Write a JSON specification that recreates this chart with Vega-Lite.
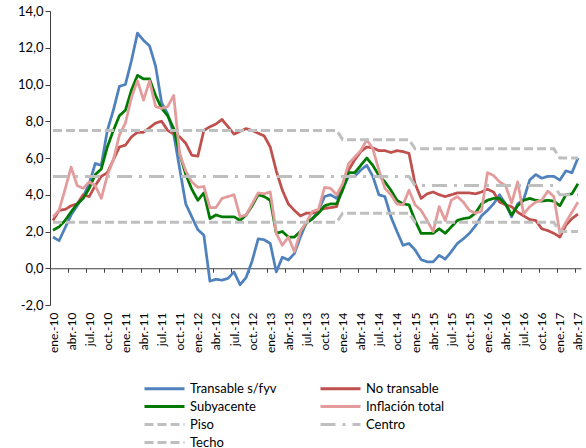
{
  "$schema": "https://vega.github.io/schema/vega-lite/v6.json",
  "width": 531,
  "height": 294,
  "autosize": {"type": "none"},
  "padding": {"left": 50, "top": 11, "right": 5, "bottom": 143},
  "background": "white",
  "config": {
    "font": "Lato",
    "view": {"stroke": null},
    "axis": {"labelFont": "Lato", "labelColor": "#000000", "grid": false, "domainColor": "#404040", "tickColor": "#404040"},
    "legend": {"labelFont": "Lato"}
  },
  "data": {
    "values": [
      {"i":0,"mes":"ene-10","Transable s/fyv":1.7,"No transable":2.6,"Subyacente":2.07,"Inflación total":2.8,"Piso":2.5,"Centro":5,"Techo":7.5},
      {"i":1,"mes":"feb-10","Transable s/fyv":1.5,"No transable":3.15,"Subyacente":2.25,"Inflación total":3.15,"Piso":2.5,"Centro":5,"Techo":7.5},
      {"i":2,"mes":"mar-10","Transable s/fyv":2.2,"No transable":3.2,"Subyacente":2.6,"Inflación total":4.3,"Piso":2.5,"Centro":5,"Techo":7.5},
      {"i":3,"mes":"abr-10","Transable s/fyv":2.9,"No transable":3.4,"Subyacente":3.07,"Inflación total":5.5,"Piso":2.5,"Centro":5,"Techo":7.5},
      {"i":4,"mes":"may-10","Transable s/fyv":3.4,"No transable":3.5,"Subyacente":3.5,"Inflación total":4.5,"Piso":2.5,"Centro":5,"Techo":7.5},
      {"i":5,"mes":"jun-10","Transable s/fyv":3.9,"No transable":4.0,"Subyacente":3.8,"Inflación total":4.35,"Piso":2.5,"Centro":5,"Techo":7.5},
      {"i":6,"mes":"jul-10","Transable s/fyv":4.6,"No transable":3.9,"Subyacente":4.35,"Inflación total":4.7,"Piso":2.5,"Centro":5,"Techo":7.5},
      {"i":7,"mes":"ago-10","Transable s/fyv":5.7,"No transable":4.5,"Subyacente":5.1,"Inflación total":4.5,"Piso":2.5,"Centro":5,"Techo":7.5},
      {"i":8,"mes":"sep-10","Transable s/fyv":5.6,"No transable":5.0,"Subyacente":5.4,"Inflación total":3.8,"Piso":2.5,"Centro":5,"Techo":7.5},
      {"i":9,"mes":"oct-10","Transable s/fyv":7.5,"No transable":5.2,"Subyacente":6.6,"Inflación total":5.05,"Piso":2.5,"Centro":5,"Techo":7.5},
      {"i":10,"mes":"nov-10","Transable s/fyv":8.6,"No transable":5.9,"Subyacente":7.5,"Inflación total":5.9,"Piso":2.5,"Centro":5,"Techo":7.5},
      {"i":11,"mes":"dic-10","Transable s/fyv":9.9,"No transable":6.6,"Subyacente":8.3,"Inflación total":7.25,"Piso":2.5,"Centro":5,"Techo":7.5},
      {"i":12,"mes":"ene-11","Transable s/fyv":10.0,"No transable":6.7,"Subyacente":8.6,"Inflación total":7.9,"Piso":2.5,"Centro":5,"Techo":7.5},
      {"i":13,"mes":"feb-11","Transable s/fyv":11.3,"No transable":7.15,"Subyacente":9.7,"Inflación total":9.3,"Piso":2.5,"Centro":5,"Techo":7.5},
      {"i":14,"mes":"mar-11","Transable s/fyv":12.8,"No transable":7.4,"Subyacente":10.5,"Inflación total":10.2,"Piso":2.5,"Centro":5,"Techo":7.5},
      {"i":15,"mes":"abr-11","Transable s/fyv":12.4,"No transable":7.4,"Subyacente":10.3,"Inflación total":9.15,"Piso":2.5,"Centro":5,"Techo":7.5},
      {"i":16,"mes":"may-11","Transable s/fyv":12.1,"No transable":7.65,"Subyacente":10.3,"Inflación total":10.2,"Piso":2.5,"Centro":5,"Techo":7.5},
      {"i":17,"mes":"jun-11","Transable s/fyv":11.0,"No transable":7.9,"Subyacente":9.4,"Inflación total":8.8,"Piso":2.5,"Centro":5,"Techo":7.5},
      {"i":18,"mes":"jul-11","Transable s/fyv":9.0,"No transable":8.0,"Subyacente":8.7,"Inflación total":8.7,"Piso":2.5,"Centro":5,"Techo":7.5},
      {"i":19,"mes":"ago-11","Transable s/fyv":8.4,"No transable":7.5,"Subyacente":8.3,"Inflación total":8.8,"Piso":2.5,"Centro":5,"Techo":7.5},
      {"i":20,"mes":"sep-11","Transable s/fyv":7.3,"No transable":7.3,"Subyacente":7.6,"Inflación total":9.4,"Piso":2.5,"Centro":5,"Techo":7.5},
      {"i":21,"mes":"oct-11","Transable s/fyv":5.4,"No transable":7.15,"Subyacente":6.2,"Inflación total":6.2,"Piso":2.5,"Centro":5,"Techo":7.5},
      {"i":22,"mes":"nov-11","Transable s/fyv":3.5,"No transable":6.8,"Subyacente":5.1,"Inflación total":5.3,"Piso":2.5,"Centro":5,"Techo":7.5},
      {"i":23,"mes":"dic-11","Transable s/fyv":2.8,"No transable":6.15,"Subyacente":4.3,"Inflación total":4.7,"Piso":2.5,"Centro":5,"Techo":7.5},
      {"i":24,"mes":"ene-12","Transable s/fyv":2.1,"No transable":6.1,"Subyacente":3.7,"Inflación total":4.4,"Piso":2.5,"Centro":5,"Techo":7.5},
      {"i":25,"mes":"feb-12","Transable s/fyv":1.8,"No transable":7.5,"Subyacente":4.1,"Inflación total":4.45,"Piso":2.5,"Centro":5,"Techo":7.5},
      {"i":26,"mes":"mar-12","Transable s/fyv":-0.7,"No transable":7.7,"Subyacente":2.7,"Inflación total":3.3,"Piso":2.5,"Centro":5,"Techo":7.5},
      {"i":27,"mes":"abr-12","Transable s/fyv":-0.6,"No transable":7.85,"Subyacente":2.9,"Inflación total":3.3,"Piso":2.5,"Centro":5,"Techo":7.5},
      {"i":28,"mes":"may-12","Transable s/fyv":-0.65,"No transable":8.1,"Subyacente":2.8,"Inflación total":3.8,"Piso":2.5,"Centro":5,"Techo":7.5},
      {"i":29,"mes":"jun-12","Transable s/fyv":-0.55,"No transable":7.7,"Subyacente":2.8,"Inflación total":3.9,"Piso":2.5,"Centro":5,"Techo":7.5},
      {"i":30,"mes":"jul-12","Transable s/fyv":-0.2,"No transable":7.3,"Subyacente":2.8,"Inflación total":4.0,"Piso":2.5,"Centro":5,"Techo":7.5},
      {"i":31,"mes":"ago-12","Transable s/fyv":-0.9,"No transable":7.45,"Subyacente":2.6,"Inflación total":2.8,"Piso":2.5,"Centro":5,"Techo":7.5},
      {"i":32,"mes":"sep-12","Transable s/fyv":-0.5,"No transable":7.6,"Subyacente":2.9,"Inflación total":2.9,"Piso":2.5,"Centro":5,"Techo":7.5},
      {"i":33,"mes":"oct-12","Transable s/fyv":0.4,"No transable":7.5,"Subyacente":3.4,"Inflación total":3.5,"Piso":2.5,"Centro":5,"Techo":7.5},
      {"i":34,"mes":"nov-12","Transable s/fyv":1.6,"No transable":7.35,"Subyacente":4.0,"Inflación total":4.1,"Piso":2.5,"Centro":5,"Techo":7.5},
      {"i":35,"mes":"dic-12","Transable s/fyv":1.55,"No transable":7.2,"Subyacente":3.9,"Inflación total":4.05,"Piso":2.5,"Centro":5,"Techo":7.5},
      {"i":36,"mes":"ene-13","Transable s/fyv":1.35,"No transable":6.6,"Subyacente":3.7,"Inflación total":4.15,"Piso":2.5,"Centro":5,"Techo":7.5},
      {"i":37,"mes":"feb-13","Transable s/fyv":-0.2,"No transable":5.3,"Subyacente":1.9,"Inflación total":1.9,"Piso":2.5,"Centro":5,"Techo":7.5},
      {"i":38,"mes":"mar-13","Transable s/fyv":0.6,"No transable":4.25,"Subyacente":2.0,"Inflación total":1.25,"Piso":2.5,"Centro":5,"Techo":7.5},
      {"i":39,"mes":"abr-13","Transable s/fyv":0.45,"No transable":3.5,"Subyacente":1.7,"Inflación total":1.7,"Piso":2.5,"Centro":5,"Techo":7.5},
      {"i":40,"mes":"may-13","Transable s/fyv":0.8,"No transable":3.15,"Subyacente":1.7,"Inflación total":0.9,"Piso":2.5,"Centro":5,"Techo":7.5},
      {"i":41,"mes":"jun-13","Transable s/fyv":1.7,"No transable":2.85,"Subyacente":2.0,"Inflación total":2.0,"Piso":2.5,"Centro":5,"Techo":7.5},
      {"i":42,"mes":"jul-13","Transable s/fyv":2.5,"No transable":3.0,"Subyacente":2.45,"Inflación total":2.5,"Piso":2.5,"Centro":5,"Techo":7.5},
      {"i":43,"mes":"ago-13","Transable s/fyv":2.7,"No transable":3.0,"Subyacente":2.7,"Inflación total":3.1,"Piso":2.5,"Centro":5,"Techo":7.5},
      {"i":44,"mes":"sep-13","Transable s/fyv":3.15,"No transable":3.15,"Subyacente":3.0,"Inflación total":3.2,"Piso":2.5,"Centro":5,"Techo":7.5},
      {"i":45,"mes":"oct-13","Transable s/fyv":3.9,"No transable":3.25,"Subyacente":3.4,"Inflación total":4.4,"Piso":2.5,"Centro":5,"Techo":7.5},
      {"i":46,"mes":"nov-13","Transable s/fyv":4.0,"No transable":3.3,"Subyacente":3.5,"Inflación total":4.35,"Piso":2.5,"Centro":5,"Techo":7.5},
      {"i":47,"mes":"dic-13","Transable s/fyv":3.8,"No transable":3.35,"Subyacente":3.5,"Inflación total":4.0,"Piso":2.5,"Centro":5,"Techo":7.5},
      {"i":48,"mes":"ene-14","Transable s/fyv":4.35,"No transable":4.5,"Subyacente":4.25,"Inflación total":4.6,"Piso":3,"Centro":5,"Techo":7},
      {"i":49,"mes":"feb-14","Transable s/fyv":5.0,"No transable":5.35,"Subyacente":5.2,"Inflación total":5.7,"Piso":3,"Centro":5,"Techo":7},
      {"i":50,"mes":"mar-14","Transable s/fyv":5.0,"No transable":5.9,"Subyacente":5.2,"Inflación total":6.05,"Piso":3,"Centro":5,"Techo":7},
      {"i":51,"mes":"abr-14","Transable s/fyv":5.35,"No transable":6.35,"Subyacente":5.6,"Inflación total":6.4,"Piso":3,"Centro":5,"Techo":7},
      {"i":52,"mes":"may-14","Transable s/fyv":5.6,"No transable":6.6,"Subyacente":6.0,"Inflación total":7.0,"Piso":3,"Centro":5,"Techo":7},
      {"i":53,"mes":"jun-14","Transable s/fyv":5.0,"No transable":6.55,"Subyacente":5.6,"Inflación total":6.5,"Piso":3,"Centro":5,"Techo":7},
      {"i":54,"mes":"jul-14","Transable s/fyv":4.0,"No transable":6.4,"Subyacente":5.05,"Inflación total":5.35,"Piso":3,"Centro":5,"Techo":7},
      {"i":55,"mes":"ago-14","Transable s/fyv":3.9,"No transable":6.4,"Subyacente":4.7,"Inflación total":4.35,"Piso":3,"Centro":5,"Techo":7},
      {"i":56,"mes":"sep-14","Transable s/fyv":2.8,"No transable":6.3,"Subyacente":4.25,"Inflación total":4.0,"Piso":3,"Centro":5,"Techo":7},
      {"i":57,"mes":"oct-14","Transable s/fyv":2.0,"No transable":6.4,"Subyacente":3.7,"Inflación total":3.5,"Piso":3,"Centro":5,"Techo":7},
      {"i":58,"mes":"nov-14","Transable s/fyv":1.25,"No transable":6.35,"Subyacente":3.5,"Inflación total":3.45,"Piso":3,"Centro":5,"Techo":7},
      {"i":59,"mes":"dic-14","Transable s/fyv":1.35,"No transable":6.25,"Subyacente":3.45,"Inflación total":4.25,"Piso":3,"Centro":5,"Techo":7},
      {"i":60,"mes":"ene-15","Transable s/fyv":1.0,"No transable":4.6,"Subyacente":2.6,"Inflación total":3.45,"Piso":2.5,"Centro":4.5,"Techo":6.5},
      {"i":61,"mes":"feb-15","Transable s/fyv":0.47,"No transable":3.8,"Subyacente":1.9,"Inflación total":3.15,"Piso":2.5,"Centro":4.5,"Techo":6.5},
      {"i":62,"mes":"mar-15","Transable s/fyv":0.35,"No transable":4.05,"Subyacente":1.9,"Inflación total":2.6,"Piso":2.5,"Centro":4.5,"Techo":6.5},
      {"i":63,"mes":"abr-15","Transable s/fyv":0.35,"No transable":4.15,"Subyacente":1.9,"Inflación total":2.0,"Piso":2.5,"Centro":4.5,"Techo":6.5},
      {"i":64,"mes":"may-15","Transable s/fyv":0.7,"No transable":4.0,"Subyacente":2.15,"Inflación total":3.35,"Piso":2.5,"Centro":4.5,"Techo":6.5},
      {"i":65,"mes":"jun-15","Transable s/fyv":0.5,"No transable":3.9,"Subyacente":1.9,"Inflación total":2.6,"Piso":2.5,"Centro":4.5,"Techo":6.5},
      {"i":66,"mes":"jul-15","Transable s/fyv":0.9,"No transable":4.0,"Subyacente":2.25,"Inflación total":3.7,"Piso":2.5,"Centro":4.5,"Techo":6.5},
      {"i":67,"mes":"ago-15","Transable s/fyv":1.35,"No transable":4.1,"Subyacente":2.6,"Inflación total":3.9,"Piso":2.5,"Centro":4.5,"Techo":6.5},
      {"i":68,"mes":"sep-15","Transable s/fyv":1.6,"No transable":4.1,"Subyacente":2.7,"Inflación total":3.6,"Piso":2.5,"Centro":4.5,"Techo":6.5},
      {"i":69,"mes":"oct-15","Transable s/fyv":1.9,"No transable":4.1,"Subyacente":2.75,"Inflación total":3.15,"Piso":2.5,"Centro":4.5,"Techo":6.5},
      {"i":70,"mes":"nov-15","Transable s/fyv":2.3,"No transable":4.05,"Subyacente":3.0,"Inflación total":3.0,"Piso":2.5,"Centro":4.5,"Techo":6.5},
      {"i":71,"mes":"dic-15","Transable s/fyv":2.85,"No transable":4.15,"Subyacente":3.5,"Inflación total":3.1,"Piso":2.5,"Centro":4.5,"Techo":6.5},
      {"i":72,"mes":"ene-16","Transable s/fyv":3.15,"No transable":4.3,"Subyacente":3.7,"Inflación total":5.2,"Piso":2.5,"Centro":4.5,"Techo":6.5},
      {"i":73,"mes":"feb-16","Transable s/fyv":3.5,"No transable":4.15,"Subyacente":3.8,"Inflación total":5.05,"Piso":2.5,"Centro":4.5,"Techo":6.5},
      {"i":74,"mes":"mar-16","Transable s/fyv":4.0,"No transable":3.6,"Subyacente":3.8,"Inflación total":4.7,"Piso":2.5,"Centro":4.5,"Techo":6.5},
      {"i":75,"mes":"abr-16","Transable s/fyv":3.5,"No transable":3.45,"Subyacente":3.5,"Inflación total":4.5,"Piso":2.5,"Centro":4.5,"Techo":6.5},
      {"i":76,"mes":"may-16","Transable s/fyv":2.8,"No transable":3.35,"Subyacente":2.9,"Inflación total":3.55,"Piso":2.5,"Centro":4.5,"Techo":6.5},
      {"i":77,"mes":"jun-16","Transable s/fyv":3.5,"No transable":3.05,"Subyacente":3.4,"Inflación total":4.7,"Piso":2.5,"Centro":4.5,"Techo":6.5},
      {"i":78,"mes":"jul-16","Transable s/fyv":3.75,"No transable":2.85,"Subyacente":3.7,"Inflación total":2.95,"Piso":2.5,"Centro":4.5,"Techo":6.5},
      {"i":79,"mes":"ago-16","Transable s/fyv":4.8,"No transable":2.65,"Subyacente":3.8,"Inflación total":3.35,"Piso":2.5,"Centro":4.5,"Techo":6.5},
      {"i":80,"mes":"sep-16","Transable s/fyv":5.1,"No transable":2.6,"Subyacente":3.7,"Inflación total":3.6,"Piso":2.5,"Centro":4.5,"Techo":6.5},
      {"i":81,"mes":"oct-16","Transable s/fyv":4.9,"No transable":2.15,"Subyacente":3.65,"Inflación total":3.7,"Piso":2.5,"Centro":4.5,"Techo":6.5},
      {"i":82,"mes":"nov-16","Transable s/fyv":5.0,"No transable":2.05,"Subyacente":3.7,"Inflación total":4.2,"Piso":2.5,"Centro":4.5,"Techo":6.5},
      {"i":83,"mes":"dic-16","Transable s/fyv":5.0,"No transable":1.9,"Subyacente":3.65,"Inflación total":3.9,"Piso":2.5,"Centro":4.5,"Techo":6.5},
      {"i":84,"mes":"ene-17","Transable s/fyv":4.8,"No transable":1.7,"Subyacente":3.4,"Inflación total":1.9,"Piso":2,"Centro":4,"Techo":6},
      {"i":85,"mes":"feb-17","Transable s/fyv":5.3,"No transable":2.35,"Subyacente":4.0,"Inflación total":2.5,"Piso":2,"Centro":4,"Techo":6},
      {"i":86,"mes":"mar-17","Transable s/fyv":5.2,"No transable":2.7,"Subyacente":4.05,"Inflación total":3.05,"Piso":2,"Centro":4,"Techo":6},
      {"i":87,"mes":"abr-17","Transable s/fyv":6.0,"No transable":2.95,"Subyacente":4.6,"Inflación total":3.6,"Piso":2,"Centro":4,"Techo":6}
    ]
  },
  "transform": [
    {"fold": ["Transable s/fyv", "No transable", "Subyacente", "Inflación total", "Piso", "Centro", "Techo"], "as": ["serie", "valor"]}
  ],
  "encoding": {
    "y": {
      "field": "valor",
      "type": "quantitative",
      "scale": {"domain": [-2, 14], "nice": false, "zero": false},
      "axis": {
        "title": null,
        "values": [-2, 0, 2, 4, 6, 8, 10, 12, 14],
        "labelExpr": "(datum.value < 0 ? '-' : '') + replace(format(abs(datum.value), '.1f'), '.', ',')",
        "tickSize": 5,
        "labelPadding": 2,
        "labelFontSize": 13,
        "grid": false
      }
    },
    "color": {
      "field": "serie",
      "type": "nominal",
      "scale": {
        "domain": ["Transable s/fyv", "Subyacente", "Piso", "Techo", "No transable", "Inflación total", "Centro"],
        "range": ["#4F81BD", "#007A00", "#BFBFBF", "#BFBFBF", "#C0504D", "#E39B9B", "#BFBFBF"]
      },
      "legend": {
        "title": null,
        "orient": "none",
        "legendX": 105,
        "legendY": 368,
        "columns": 2,
        "columnPadding": 37,
        "rowPadding": 1,
        "symbolType": "M-2.5,0H2.5",
        "symbolSize": 256,
        "symbolStrokeWidth": 3,
        "labelFontSize": 13,
        "labelOffset": 16,
        "labelColor": "#000000"
      }
    },
    "strokeDash": {
      "field": "serie",
      "type": "nominal",
      "scale": {
        "domain": ["Transable s/fyv", "Subyacente", "Piso", "Techo", "No transable", "Inflación total", "Centro"],
        "range": [[1, 0], [1, 0], [9, 4], [9, 4], [1, 0], [1, 0], [15, 7, 3, 7]]
      },
      "legend": {
        "title": null,
        "orient": "none",
        "legendX": 105,
        "legendY": 368,
        "columns": 2,
        "columnPadding": 37,
        "rowPadding": 1,
        "symbolType": "M-2.5,0H2.5",
        "symbolSize": 256,
        "symbolStrokeWidth": 3,
        "labelFontSize": 13,
        "labelOffset": 16,
        "labelColor": "#000000"
      }
    }
  },
  "layer": [
    {
      "transform": [{"filter": {"field": "serie", "oneOf": ["Transable s/fyv", "No transable", "Subyacente", "Inflación total"]}}],
      "mark": {"type": "line", "strokeWidth": 2.75, "strokeJoin": "round"},
      "encoding": {
        "x": {
          "field": "i",
          "type": "quantitative",
          "scale": {"domain": [-0.5, 87.5], "nice": false, "zero": false},
          "axis": {
            "orient": "bottom",
            "title": null,
            "values": [0, 3, 6, 9, 12, 15, 18, 21, 24, 27, 30, 33, 36, 39, 42, 45, 48, 51, 54, 57, 60, 63, 66, 69, 72, 75, 78, 81, 84, 87],
            "labelExpr": "['ene.','abr.','jul.','oct.'][floor((datum.value % 12) / 3)] + '-' + (10 + floor(datum.value / 12))",
            "labelAngle": 270,
            "labelPadding": 7,
            "labelFontSize": 12,
            "domain": false,
            "ticks": false,
            "grid": false,
            "labelOverlap": false,
            "labelBound": false,
            "labelFlush": false
          }
        }
      }
    },
    {
      "transform": [{"filter": {"field": "serie", "oneOf": ["Piso", "Centro", "Techo"]}}],
      "mark": {"type": "line", "strokeWidth": 3},
      "encoding": {
        "x": {
          "field": "i",
          "type": "quantitative",
          "scale": {"domain": [-0.5, 87.5], "nice": false, "zero": false},
          "axis": {
            "orient": "bottom",
            "title": null,
            "offset": -36.75,
            "values": [-0.5, 2.5, 5.5, 8.5, 11.5, 14.5, 17.5, 20.5, 23.5, 26.5, 29.5, 32.5, 35.5, 38.5, 41.5, 44.5, 47.5, 50.5, 53.5, 56.5, 59.5, 62.5, 65.5, 68.5, 71.5, 74.5, 77.5, 80.5, 83.5, 86.5],
            "labels": false,
            "domain": true,
            "ticks": true,
            "tickSize": 4,
            "grid": false
          }
        }
      }
    }
  ],
  "resolve": {"axis": {"x": "independent"}}
}
